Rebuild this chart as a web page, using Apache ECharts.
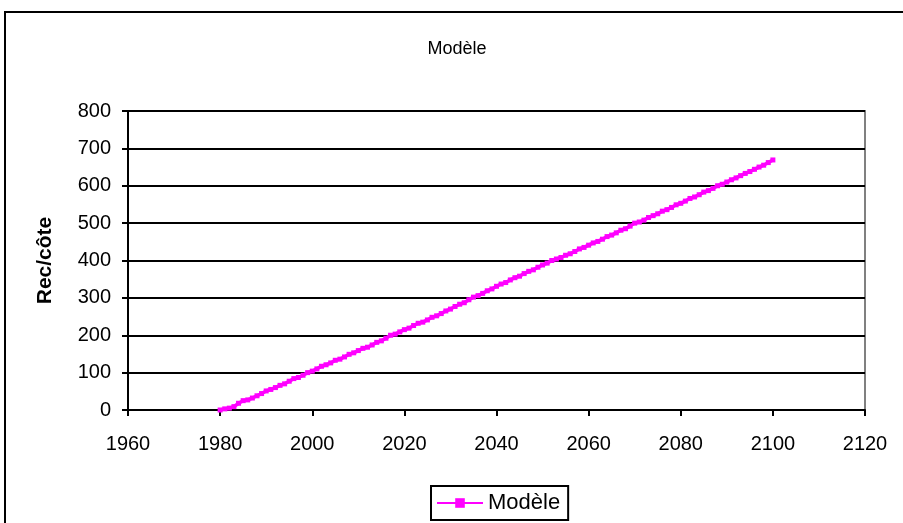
<!DOCTYPE html>
<html>
<head>
<meta charset="utf-8">
<script src="https://cdn.jsdelivr.net/npm/echarts@6/dist/echarts.min.js"></script>
<style>
html, body { margin: 0; padding: 0; background: #fff; }
#box1 { width: 903px; height: 523px; }
</style>
</head>
<body>
<div id="box1"></div>
<script>
var dom = document.getElementById("box1");
var myChart = echarts.init(dom);

// années du modèle
var years = [];
for (var y = 1980; y <= 2100; y++) { years.push(y); }

// Rec/côte
var modele = [
  0, 3, 5, 9, 18, 25, 27, 32, 38, 44,
  51, 55, 60, 66, 70, 77, 84, 87, 93, 100,
  104, 110, 117, 121, 126, 133, 136, 142, 149, 153,
  159, 165, 168, 174, 181, 185, 192, 200, 203, 209,
  215, 219, 226, 232, 235, 241, 248, 252, 258, 265,
  270, 277, 283, 287, 295, 302, 306, 312, 319, 324,
  331, 337, 341, 348, 354, 358, 365, 371, 375, 382,
  388, 393, 400, 404, 408, 414, 418, 424, 431, 435,
  441, 447, 451, 457, 464, 468, 474, 481, 485, 492,
  500, 503, 508, 515, 520, 525, 532, 536, 542, 549,
  553, 559, 566, 570, 576, 583, 587, 593, 600, 604,
  610, 616, 621, 627, 633, 638, 644, 650, 655, 662,
  669
];

var xTicks = [1960, 2120, 20];
var yTicks = [0, 800, 100];

var seriesData = [];
for (var i = 0; i < years.length; i++) {
  seriesData.push([years[i], modele[i]]);
}

var font = "'Liberation Sans', Arial, sans-serif";

option = {
  backgroundColor: '#fff',
  animation: false,
  textStyle: { fontFamily: font },
  title: {
    text: 'Modèle',
    left: 452,
    textAlign: 'center',
    top: 35,
    textStyle: { fontSize: 18, fontWeight: 'normal', color: '#000', fontFamily: font }
  },
  graphic: [{
    type: 'rect',
    shape: { x: 5, y: 12, width: 1000, height: 700 },
    style: { fill: 'none', stroke: '#000', lineWidth: 2 },
    silent: true
  }],
  legend: {
    left: 431,
    top: 486,
    padding: [6, 8, 6, 5],
    itemWidth: 46,
    itemHeight: 12,
    borderColor: '#000',
    borderWidth: 2,
    textStyle: { fontSize: 22, color: '#000', fontFamily: font },
    data: ['Modèle']
  },
  grid: {
    left: 128,
    right: 38,
    top: 111,
    bottom: 113,
    show: true,
    borderColor: '#808080',
    borderWidth: 2,
    containLabel: false
  },
  xAxis: {
    type: 'value',
    min: xTicks[0],
    max: xTicks[1],
    interval: xTicks[2],
    axisLine: { lineStyle: { color: '#000', width: 2 } },
    axisTick: { show: true, length: 6, lineStyle: { color: '#000', width: 2 } },
    axisLabel: {
      margin: 24, fontSize: 20, color: '#000', fontFamily: font,
      formatter: function (v) { return String(v); }
    },
    splitLine: { show: false }
  },
  yAxis: [{
    type: 'value',
    min: yTicks[0],
    max: yTicks[1],
    interval: yTicks[2],
    name: 'Rec/côte',
    nameLocation: 'middle',
    nameGap: 72,
    nameTextStyle: { fontSize: 21, fontWeight: 'bold', color: '#000', fontFamily: font },
    axisLine: { show: true, lineStyle: { color: '#000', width: 2 } },
    axisTick: { show: true, length: 6, lineStyle: { color: '#000', width: 2 } },
    axisLabel: { margin: 17, fontSize: 20, color: '#000', fontFamily: font },
    splitLine: { show: true, lineStyle: { color: '#000', width: 2 } }
  }, {
    // petites graduations croisées vers l'intérieur
    type: 'value',
    position: 'left',
    min: yTicks[0],
    max: yTicks[1],
    interval: yTicks[2],
    axisLine: { show: false },
    axisTick: { show: true, inside: true, length: 4, lineStyle: { color: '#000', width: 2 } },
    axisLabel: { show: false },
    splitLine: { show: false }
  }],
  series: [{
    name: 'Modèle',
    type: 'line',
    data: seriesData,
    symbol: 'rect',
    symbolSize: 5,
    showAllSymbol: true,
    color: '#FF00FF',
    lineStyle: { color: '#FF00FF', width: 3.5 },
    itemStyle: { color: '#FF00FF' }
  }]
};
if (option && typeof option === "object") {
  myChart.setOption(option, true);
}
</script>
</body>
</html>
